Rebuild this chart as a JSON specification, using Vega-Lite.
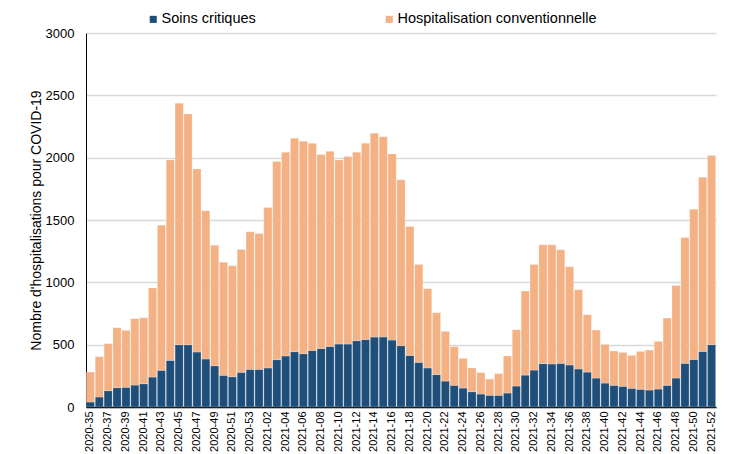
{
  "$schema": "https://vega.github.io/schema/vega-lite/v6.json",
  "autosize": "none",
  "width": 630,
  "height": 374,
  "padding": {"left": 86, "top": 33, "right": 13, "bottom": 47},
  "background": "white",
  "config": {
    "font": "Liberation Sans",
    "view": {"stroke": null}
  },
  "data": {
    "values": [
      {"semaine": "2020-35", "Soins critiques": 40, "Hospitalisation conventionnelle": 240},
      {"semaine": "2020-36", "Soins critiques": 80, "Hospitalisation conventionnelle": 324},
      {"semaine": "2020-37", "Soins critiques": 131, "Hospitalisation conventionnelle": 377},
      {"semaine": "2020-38", "Soins critiques": 155, "Hospitalisation conventionnelle": 481},
      {"semaine": "2020-39", "Soins critiques": 158, "Hospitalisation conventionnelle": 457},
      {"semaine": "2020-40", "Soins critiques": 176, "Hospitalisation conventionnelle": 532},
      {"semaine": "2020-41", "Soins critiques": 187, "Hospitalisation conventionnelle": 529},
      {"semaine": "2020-42", "Soins critiques": 240, "Hospitalisation conventionnelle": 714},
      {"semaine": "2020-43", "Soins critiques": 294, "Hospitalisation conventionnelle": 1164},
      {"semaine": "2020-44", "Soins critiques": 374, "Hospitalisation conventionnelle": 1608},
      {"semaine": "2020-45", "Soins critiques": 500, "Hospitalisation conventionnelle": 1936},
      {"semaine": "2020-46", "Soins critiques": 500, "Hospitalisation conventionnelle": 1851},
      {"semaine": "2020-47", "Soins critiques": 441, "Hospitalisation conventionnelle": 1469},
      {"semaine": "2020-48", "Soins critiques": 385, "Hospitalisation conventionnelle": 1189},
      {"semaine": "2020-49", "Soins critiques": 331, "Hospitalisation conventionnelle": 967},
      {"semaine": "2020-50", "Soins critiques": 254, "Hospitalisation conventionnelle": 908},
      {"semaine": "2020-51", "Soins critiques": 243, "Hospitalisation conventionnelle": 890},
      {"semaine": "2020-52", "Soins critiques": 278, "Hospitalisation conventionnelle": 986},
      {"semaine": "2020-53", "Soins critiques": 302, "Hospitalisation conventionnelle": 1103},
      {"semaine": "2021-01", "Soins critiques": 302, "Hospitalisation conventionnelle": 1090},
      {"semaine": "2021-02", "Soins critiques": 313, "Hospitalisation conventionnelle": 1287},
      {"semaine": "2021-03", "Soins critiques": 380, "Hospitalisation conventionnelle": 1589},
      {"semaine": "2021-04", "Soins critiques": 409, "Hospitalisation conventionnelle": 1634},
      {"semaine": "2021-05", "Soins critiques": 444, "Hospitalisation conventionnelle": 1712},
      {"semaine": "2021-06", "Soins critiques": 428, "Hospitalisation conventionnelle": 1704},
      {"semaine": "2021-07", "Soins critiques": 454, "Hospitalisation conventionnelle": 1662},
      {"semaine": "2021-08", "Soins critiques": 470, "Hospitalisation conventionnelle": 1555},
      {"semaine": "2021-09", "Soins critiques": 486, "Hospitalisation conventionnelle": 1565},
      {"semaine": "2021-10", "Soins critiques": 505, "Hospitalisation conventionnelle": 1477},
      {"semaine": "2021-11", "Soins critiques": 505, "Hospitalisation conventionnelle": 1504},
      {"semaine": "2021-12", "Soins critiques": 532, "Hospitalisation conventionnelle": 1511},
      {"semaine": "2021-13", "Soins critiques": 542, "Hospitalisation conventionnelle": 1574},
      {"semaine": "2021-14", "Soins critiques": 561, "Hospitalisation conventionnelle": 1635},
      {"semaine": "2021-15", "Soins critiques": 562, "Hospitalisation conventionnelle": 1605},
      {"semaine": "2021-16", "Soins critiques": 537, "Hospitalisation conventionnelle": 1493},
      {"semaine": "2021-17", "Soins critiques": 492, "Hospitalisation conventionnelle": 1330},
      {"semaine": "2021-18", "Soins critiques": 414, "Hospitalisation conventionnelle": 1034},
      {"semaine": "2021-19", "Soins critiques": 358, "Hospitalisation conventionnelle": 785},
      {"semaine": "2021-20", "Soins critiques": 313, "Hospitalisation conventionnelle": 636},
      {"semaine": "2021-21", "Soins critiques": 260, "Hospitalisation conventionnelle": 496},
      {"semaine": "2021-22", "Soins critiques": 208, "Hospitalisation conventionnelle": 399},
      {"semaine": "2021-23", "Soins critiques": 174, "Hospitalisation conventionnelle": 310},
      {"semaine": "2021-24", "Soins critiques": 152, "Hospitalisation conventionnelle": 238},
      {"semaine": "2021-25", "Soins critiques": 123, "Hospitalisation conventionnelle": 190},
      {"semaine": "2021-26", "Soins critiques": 104, "Hospitalisation conventionnelle": 172},
      {"semaine": "2021-27", "Soins critiques": 94, "Hospitalisation conventionnelle": 130},
      {"semaine": "2021-28", "Soins critiques": 94, "Hospitalisation conventionnelle": 174},
      {"semaine": "2021-29", "Soins critiques": 112, "Hospitalisation conventionnelle": 297},
      {"semaine": "2021-30", "Soins critiques": 168, "Hospitalisation conventionnelle": 452},
      {"semaine": "2021-31", "Soins critiques": 256, "Hospitalisation conventionnelle": 674},
      {"semaine": "2021-32", "Soins critiques": 296, "Hospitalisation conventionnelle": 847},
      {"semaine": "2021-33", "Soins critiques": 348, "Hospitalisation conventionnelle": 953},
      {"semaine": "2021-34", "Soins critiques": 345, "Hospitalisation conventionnelle": 956},
      {"semaine": "2021-35", "Soins critiques": 350, "Hospitalisation conventionnelle": 911},
      {"semaine": "2021-36", "Soins critiques": 337, "Hospitalisation conventionnelle": 788},
      {"semaine": "2021-37", "Soins critiques": 305, "Hospitalisation conventionnelle": 636},
      {"semaine": "2021-38", "Soins critiques": 280, "Hospitalisation conventionnelle": 460},
      {"semaine": "2021-39", "Soins critiques": 232, "Hospitalisation conventionnelle": 385},
      {"semaine": "2021-40", "Soins critiques": 192, "Hospitalisation conventionnelle": 310},
      {"semaine": "2021-41", "Soins critiques": 174, "Hospitalisation conventionnelle": 275},
      {"semaine": "2021-42", "Soins critiques": 166, "Hospitalisation conventionnelle": 272},
      {"semaine": "2021-43", "Soins critiques": 150, "Hospitalisation conventionnelle": 264},
      {"semaine": "2021-44", "Soins critiques": 142, "Hospitalisation conventionnelle": 304},
      {"semaine": "2021-45", "Soins critiques": 136, "Hospitalisation conventionnelle": 321},
      {"semaine": "2021-46", "Soins critiques": 144, "Hospitalisation conventionnelle": 382},
      {"semaine": "2021-47", "Soins critiques": 174, "Hospitalisation conventionnelle": 539},
      {"semaine": "2021-48", "Soins critiques": 232, "Hospitalisation conventionnelle": 743},
      {"semaine": "2021-49", "Soins critiques": 350, "Hospitalisation conventionnelle": 1010},
      {"semaine": "2021-50", "Soins critiques": 382, "Hospitalisation conventionnelle": 1205},
      {"semaine": "2021-51", "Soins critiques": 446, "Hospitalisation conventionnelle": 1397},
      {"semaine": "2021-52", "Soins critiques": 500, "Hospitalisation conventionnelle": 1517}
    ]
  },
  "transform": [
    {"fold": ["Soins critiques", "Hospitalisation conventionnelle"], "as": ["type", "nombre"]}
  ],
  "mark": {"type": "bar", "stroke": "white", "strokeWidth": 0.4, "strokeOpacity": 0.6},
  "encoding": {
    "x": {
      "field": "semaine",
      "type": "ordinal",
      "sort": null,
      "scale": {"paddingInner": 0.08, "paddingOuter": 0.04},
      "axis": {
        "title": null,
        "values": ["2020-35","2020-37","2020-39","2020-41","2020-43","2020-45","2020-47","2020-49","2020-51","2020-53","2021-02","2021-04","2021-06","2021-08","2021-10","2021-12","2021-14","2021-16","2021-18","2021-20","2021-22","2021-24","2021-26","2021-28","2021-30","2021-32","2021-34","2021-36","2021-38","2021-40","2021-42","2021-44","2021-46","2021-48","2021-50","2021-52"],
        "labelAngle": -90,
        "labelAlign": "right",
        "labelBaseline": "middle",
        "labelFontSize": 11,
        "labelColor": "#000000",
        "labelPadding": 4,
        "ticks": false,
        "domainColor": "#000000",
        "domainWidth": 1.5,
        "labelOverlap": false
      }
    },
    "y": {
      "field": "nombre",
      "type": "quantitative",
      "stack": "zero",
      "scale": {"domain": [0, 3000], "nice": false},
      "axis": {
        "title": "Nombre d'hospitalisations pour COVID-19",
        "titleFontSize": 14,
        "titleFontWeight": "normal",
        "titleColor": "#000000",
        "titlePadding": 2,
        "format": "d",
        "values": [0, 500, 1000, 1500, 2000, 2500, 3000],
        "labelFontSize": 13,
        "labelColor": "#000000",
        "labelPadding": 12,
        "ticks": false,
        "domainColor": "#000000",
        "domainWidth": 1,
        "gridColor": "#d9d9d9",
        "gridWidth": 1.5
      }
    },
    "color": {
      "field": "type",
      "type": "nominal",
      "scale": {
        "domain": ["Soins critiques", "Hospitalisation conventionnelle"],
        "range": ["#1f4e79", "#f4b183"]
      },
      "legend": {
        "title": null,
        "orient": "none",
        "direction": "horizontal",
        "legendX": 60,
        "legendY": -21,
        "symbolType": "square",
        "symbolSize": 50,
        "symbolStrokeWidth": 0,
        "labelFontSize": 14.5,
        "labelColor": "#000000",
        "labelOffset": 1,
        "columnPadding": 126,
        "labelLimit": 400
      }
    },
    "order": {"field": "type", "sort": "descending"}
  }
}
